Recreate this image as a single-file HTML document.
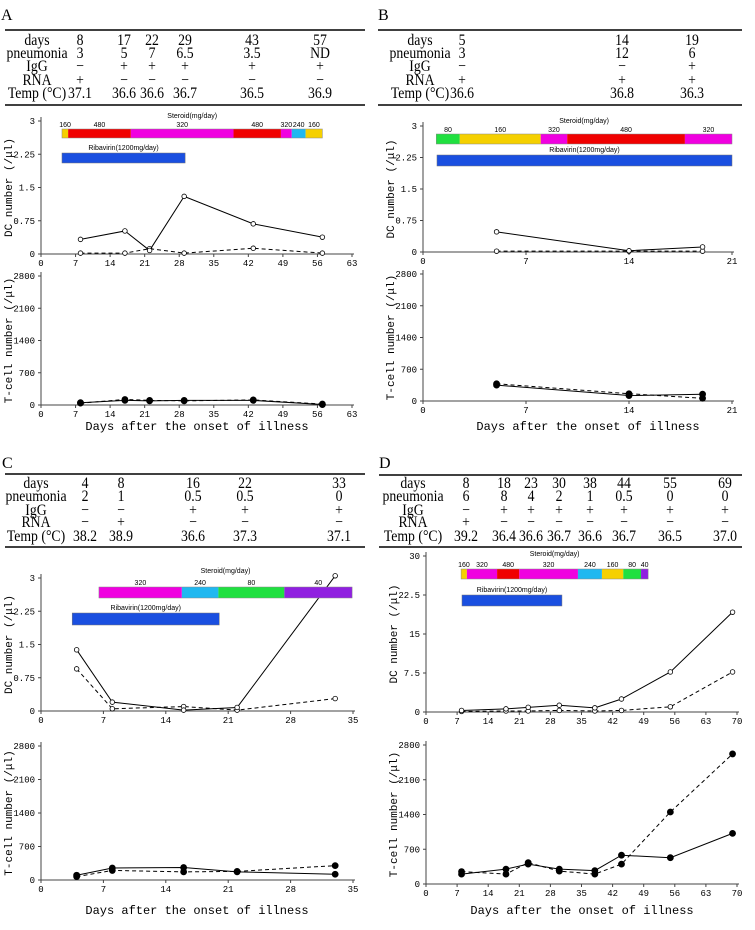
<!DOCTYPE html>
<html><head><meta charset="utf-8"><style>
body{margin:0;background:#fff;width:755px;height:930px;overflow:hidden}
svg{display:block}
.tb{font-family:"Liberation Serif",serif;font-size:16px;fill:#000}
.tk{font-family:"Liberation Mono",monospace;font-size:9px;fill:#000}
.ti{font-family:"Liberation Mono",monospace;font-size:12px;fill:#000}
.yt{font-family:"Liberation Mono",monospace;font-size:11px;fill:#000}
.an{font-family:"Liberation Sans",sans-serif;font-size:7px;fill:#000}
</style></head><body>
<svg id="fig" width="755" height="930" viewBox="0 0 755 930" xmlns="http://www.w3.org/2000/svg"></svg>
<script>
// ---- Data ----
const aDays=[8,17,22,29,43,57];
const aDcSolid=[0.33,0.52,0.08,1.3,0.68,0.38];
const aDcDash=[0.02,0.02,0.12,0.02,0.13,0.02];
const aTSolid=[50,100,90,100,100,10];
const aTDash=[40,120,100,90,110,20];
const bDays=[5,14,19];
const bDcSolid=[0.48,0.03,0.12];
const bDcDash=[0.02,0.02,0.02];
const bTSolid=[350,120,150];
const bTDash=[380,160,60];
const cDays=[4,8,16,22,33];
const cDcSolid=[1.38,0.2,0.02,0.08,3.05];
const cDcDash=[0.95,0.05,0.1,0.02,0.28];
const cTSolid=[100,250,260,170,120];
const cTDash=[70,200,170,180,300];
const dDays=[8,18,23,30,38,44,55,69];
const dDcSolid=[0.3,0.6,0.9,1.3,0.8,2.5,7.7,19.2];
const dDcDash=[0.1,0.2,0.2,0.3,0.2,0.3,1.0,7.7];
const dTSolid=[200,300,400,300,270,580,530,1020];
const dTDash=[250,200,430,260,200,400,1450,2620];
const dcTicks3=["0","0.75","1.5","2.25","3"];
const dcTicks30=["0","7.5","15","22.5","30"];
const tTicks=["0","700","1400","2100","2800"];

const NS="http://www.w3.org/2000/svg";
const svg=document.getElementById('fig');
function el(tag,attrs,parent,text){const e=document.createElementNS(NS,tag);for(const k in attrs)e.setAttribute(k,attrs[k]);if(text!==undefined)e.textContent=text;(parent||svg).appendChild(e);return e;}

function stext(g,x,y,s){return el('text',{x:0,y:0,'class':'tb','text-anchor':'middle',transform:`translate(${x},${y}) scale(0.86,1)`},g,s);}

function table(g,letter,lx,ly,x0,x1,top,bot,rowY,labelX,cols,rows){
  const t=el('text',{x:lx,y:ly,'class':'tb','font-size':22},g,letter);
  
  
  el('line',{x1:x0,x2:x1,y1:top,y2:top,stroke:'#000','stroke-width':1.5},g);
  el('line',{x1:x0,x2:x1,y1:bot,y2:bot,stroke:'#000','stroke-width':1.5},g);
  const labels=['days','pneumonia','IgG','RNA','Temp (\u00b0C)'];
  labels.forEach((l,i)=>{
    const tt=stext(g,labelX,rowY[i],l);
    
    
    rows[i].forEach((v,j)=>{
      const c=stext(g,cols[j],rowY[i],v);
      
      
    });
  });
}

function chart(g,o){
  const X=d=>o.x0+(o.x1-o.x0)*d/o.xmax;
  const Y=v=>o.ybot-(o.ybot-o.ytop)*v/o.ymax;
  el('line',{x1:o.x0,x2:o.x0,y1:o.ytop-4,y2:o.ybot,stroke:'#444','stroke-width':1},g);
  el('line',{x1:o.x0,x2:o.x1+2,y1:o.ybot,y2:o.ybot,stroke:'#444','stroke-width':1},g);
  o.ylabels.forEach((l,i)=>{
    const v=o.ymax*i/(o.ylabels.length-1);
    el('line',{x1:o.x0-3,x2:o.x0,y1:Y(v),y2:Y(v),stroke:'#444'},g);
    const t=el('text',{x:o.x0-6,y:Y(v)+3,'class':'tk','text-anchor':'end'},g,l);
    
    
  });
  o.xticks.forEach(d=>{
    el('line',{x1:X(d),x2:X(d),y1:o.ybot,y2:o.ybot+3,stroke:'#444'},g);
    const t=el('text',{x:X(d),y:o.ybot+12,'class':'tk','text-anchor':'middle'},g,String(d));
    
    
  });
  const yt=el('text',{x:0,y:0,'class':'yt','text-anchor':'middle',transform:`translate(${o.x0-29},${(o.ytop+o.ybot)/2}) rotate(-90)`},g,o.title);
  
  
  [[o.dash,'4,3'],[o.solid,'none']].forEach(([vals,da],si)=>{
    const pts=o.days.map((d,i)=>X(d)+','+Y(vals[i])).join(' ');
    const pl=el('polyline',{points:pts,fill:'none',stroke:'#000','stroke-width':1,'stroke-dasharray':da},g);
    
    
    o.days.forEach((d,i)=>{
      const c=el('circle',{cx:X(d),cy:Y(vals[i]),r:o.filled?3:2.3,fill:o.filled?'#000':'#fff',stroke:'#000','stroke-width':0.8},g);
      
      
    });
  });
  return X;
}

function bars(g,X,sy,sh,segs,labels,ry,rs,re,titleY){
  const sx0=X(segs[0][0]),sx1=X(segs[segs.length-1][1]);
  const st=el('text',{x:(sx0+sx1)/2,y:titleY,'class':'an','text-anchor':'middle'},g,'Steroid(mg/day)');
  
  
  segs.forEach((s,i)=>{
    const r=el('rect',{x:X(s[0]),y:sy,width:X(s[1])-X(s[0]),height:sh,fill:s[2]},g);
    
    
    if(labels[i]){const t=el('text',{x:(X(s[0])+X(s[1]))/2,y:sy-2,'class':'an','font-size':6,'text-anchor':'middle'},g,labels[i]);
      
      }
  });
  el('rect',{x:sx0,y:sy,width:sx1-sx0,height:sh,fill:'none',stroke:'#888','stroke-width':0.5},g);
  const rt=el('text',{x:(X(rs)+X(re))/2,y:ry-3,'class':'an','text-anchor':'middle'},g,'Ribavirin(1200mg/day)');
  
  
  const rb=el('rect',{x:X(rs),y:ry,width:X(re)-X(rs),height:sh+1,fill:'#1a4fe0',stroke:'#777','stroke-width':0.5},g);
  
  
}

function xtitle(g,x,y){const t=el('text',{x:x,y:y,'class':'ti','text-anchor':'middle'},g,'Days after the onset of illness');
  
  }

const Y='#f5d000',R='#f00000',M='#f000e0',C='#20b8f0',G='#20e040',P='#9020e0';
const DC='DC number (/\u03bcl)', TC='T-cell number (/\u03bcl)';
const topRows=[45,58,71,85,98], botRows=[488,501,515,527,541];

// Panel A
let g=el('g',{});  
table(g,'A',1,20,5,365,30,105,topRows,37,[80,124,152,185,252,320],
 [['8','17','22','29','43','57'],['3','5','7','6.5','3.5','ND'],['\u2212','+','+','+','+','+'],['+','\u2212','\u2212','\u2212','\u2212','\u2212'],['37.1','36.6','36.6','36.7','36.5','36.9']]);
let X=chart(g,{x0:41,x1:352,xmax:63,xticks:[0,7,14,21,28,35,42,49,56,63],ytop:121,ybot:254,ymax:3,ylabels:dcTicks3,title:DC,days:aDays,solid:aDcSolid,dash:aDcDash});
bars(g,X,129,9,[[4.25,5.5,Y],[5.5,18.2,R],[18.2,39,M],[39,48.6,R],[48.6,50.8,M],[50.8,53.6,C],[53.6,57,Y]],['160','480','320','480','320','240','160'],153,4.25,29.2,118);
chart(g,{x0:41,x1:352,xmax:63,xticks:[0,7,14,21,28,35,42,49,56,63],ytop:276,ybot:405,ymax:2800,ylabels:tTicks,title:TC,days:aDays,solid:aTSolid,dash:aTDash,filled:true});
xtitle(g,197,430);

// Panel B
g=el('g',{});  
table(g,'B',378,20,378,742,30,105,topRows,420,[462,622,692],
 [['5','14','19'],['3','12','6'],['\u2212','\u2212','+'],['+','+','+'],['36.6','36.8','36.3']]);
X=chart(g,{x0:423,x1:732,xmax:21,xticks:[0,7,14,21],ytop:126,ybot:252,ymax:3,ylabels:dcTicks3,title:DC,days:bDays,solid:bDcSolid,dash:bDcDash});
bars(g,X,134,10,[[0.9,2.5,G],[2.5,8,Y],[8,9.8,M],[9.8,17.8,R],[17.8,21,M]],['80','160','320','480','320'],155,0.95,21,123);
chart(g,{x0:423,x1:732,xmax:21,xticks:[0,7,14,21],ytop:274,ybot:401,ymax:2800,ylabels:tTicks,title:TC,days:bDays,solid:bTSolid,dash:bTDash,filled:true});
xtitle(g,588,430);

// Panel C
g=el('g',{});  
table(g,'C',2,468,5,365,474,547,botRows,36,[85,121,193,245,339],
 [['4','8','16','22','33'],['2','1','0.5','0.5','0'],['\u2212','\u2212','+','+','+'],['\u2212','+','\u2212','\u2212','\u2212'],['38.2','38.9','36.6','37.3','37.1']]);
X=chart(g,{x0:41,x1:353,xmax:35,xticks:[0,7,14,21,28,35],ytop:578,ybot:711,ymax:3,ylabels:dcTicks3,title:DC,days:cDays,solid:cDcSolid,dash:cDcDash});
bars(g,X,587,11,[[6.5,15.8,M],[15.8,19.9,C],[19.9,27.3,G],[27.3,34.9,P]],['320','240','80','40'],613,3.5,20,573);
chart(g,{x0:41,x1:353,xmax:35,xticks:[0,7,14,21,28,35],ytop:746,ybot:880,ymax:2800,ylabels:tTicks,title:TC,days:cDays,solid:cTSolid,dash:cTDash,filled:true});
xtitle(g,197,914);

// Panel D
g=el('g',{});  
table(g,'D',379,468,379,742,475,547,botRows,413,[466,504,531,559,590,624,670,725],
 [['8','18','23','30','38','44','55','69'],['6','8','4','2','1','0.5','0','0'],['\u2212','+','+','+','+','+','+','+'],['+','\u2212','\u2212','\u2212','\u2212','\u2212','\u2212','\u2212'],['39.2','36.4','36.6','36.7','36.6','36.7','36.5','37.0']]);
X=chart(g,{x0:426,x1:737,xmax:70,xticks:[0,7,14,21,28,35,42,49,56,63,70],ytop:556,ybot:712,ymax:30,ylabels:dcTicks30,title:DC,days:dDays,solid:dDcSolid,dash:dDcDash});
bars(g,X,569,10,[[7.9,9.2,Y],[9.2,16,M],[16,21,R],[21,34.2,M],[34.2,39.6,C],[39.6,44.4,Y],[44.4,48.4,G],[48.4,50,P]],['160','320','480','320','240','160','80','40'],595,8.1,30.6,556);
chart(g,{x0:426,x1:737,xmax:70,xticks:[0,7,14,21,28,35,42,49,56,63,70],ytop:745,ybot:884,ymax:2800,ylabels:tTicks,title:TC,days:dDays,solid:dTSolid,dash:dTDash,filled:true});
xtitle(g,582,914);
</script>
</body></html>
